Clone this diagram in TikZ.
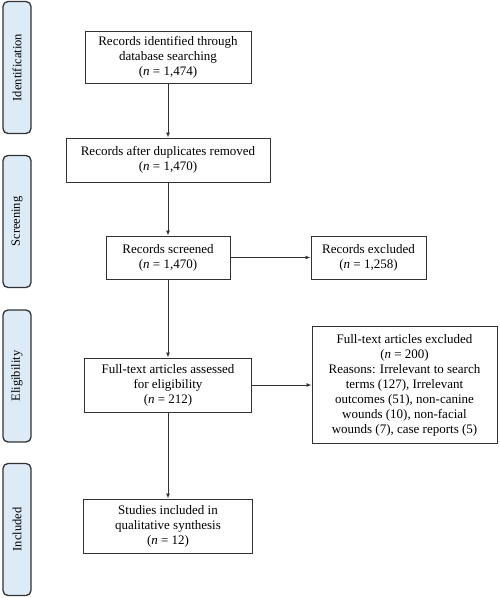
\documentclass[tikz,border=0pt]{standalone}
\usepackage{fontspec}
\setmainfont{Liberation Serif}
\usetikzlibrary{arrows.meta}
\definecolor{phaseblue}{RGB}{221,235,247}
\definecolor{linegray}{RGB}{50,50,50}
\begin{document}
\begin{tikzpicture}[x=1pt,y=-1pt,
		box/.style={draw=linegray,line width=1pt,align=center,inner sep=0pt,font=\fontsize{13}{15}\selectfont},
		phase/.style={draw=linegray,line width=1.3pt,fill=phaseblue,rounded corners=5pt,rotate=90,minimum width=132pt,minimum height=28pt,inner sep=0pt,font=\fontsize{12.5}{14}\selectfont},
		pfeil/.style={draw=linegray,line width=0.9pt,-{Latex[length=5pt,width=4pt]}}]
				\useasboundingbox (0,0) rectangle (500,598);
				% Phasen links
				\node[phase] (phId) at (17,67.5) {Identification};
				\node[phase] (phScr) at (17,221.5) {Screening};
				\node[phase] (phEli) at (17,376) {Eligibility};
				\node[phase] (phInc) at (17,529.5) {Included};
				% Kaesten
				\node[box,minimum width=166pt,minimum height=52pt] (ident) at (168,57) {Records identified through\\database searching\\{}(\textit{n} = 1,474)};
				\node[box,minimum width=204pt,minimum height=44pt] (dupl) at (168,160) {Records after duplicates removed\\{}(\textit{n} = 1,470)};
				\node[box,minimum width=124pt,minimum height=43pt] (screen) at (168,257.5) {Records screened\\{}(\textit{n} = 1,470)};
				\node[box,minimum width=115pt,minimum height=43pt] (excl) at (368.5,257.5) {Records excluded\\{}(\textit{n} = 1,258)};
				\node[box,minimum width=167pt,minimum height=54pt] (full) at (168,385) {Full-text articles assessed\\for eligibility\\{}(\textit{n} = 212)};
				\node[box,minimum width=185pt,minimum height=117pt] (fullexcl) at (404.5,385) {Full-text articles excluded\\{}(\textit{n} = 200)\\Reasons: Irrelevant to search\\terms (127), Irrelevant\\outcomes (51), non-canine\\wounds (10), non-facial\\wounds (7), case reports (5)};
				\node[box,minimum width=169pt,minimum height=54pt] (incl) at (168,526) {Studies included in\\qualitative synthesis\\{}(\textit{n} = 12)};
				% Pfeile
				\draw[pfeil] (ident) to (dupl);
				\draw[pfeil] (dupl) to (screen);
				\draw[pfeil] (screen) to (excl);
				\draw[pfeil] (screen) to (full);
				\draw[pfeil] (full) to (fullexcl);
				\draw[pfeil] (full) to (incl);
\end{tikzpicture}
\end{document}
